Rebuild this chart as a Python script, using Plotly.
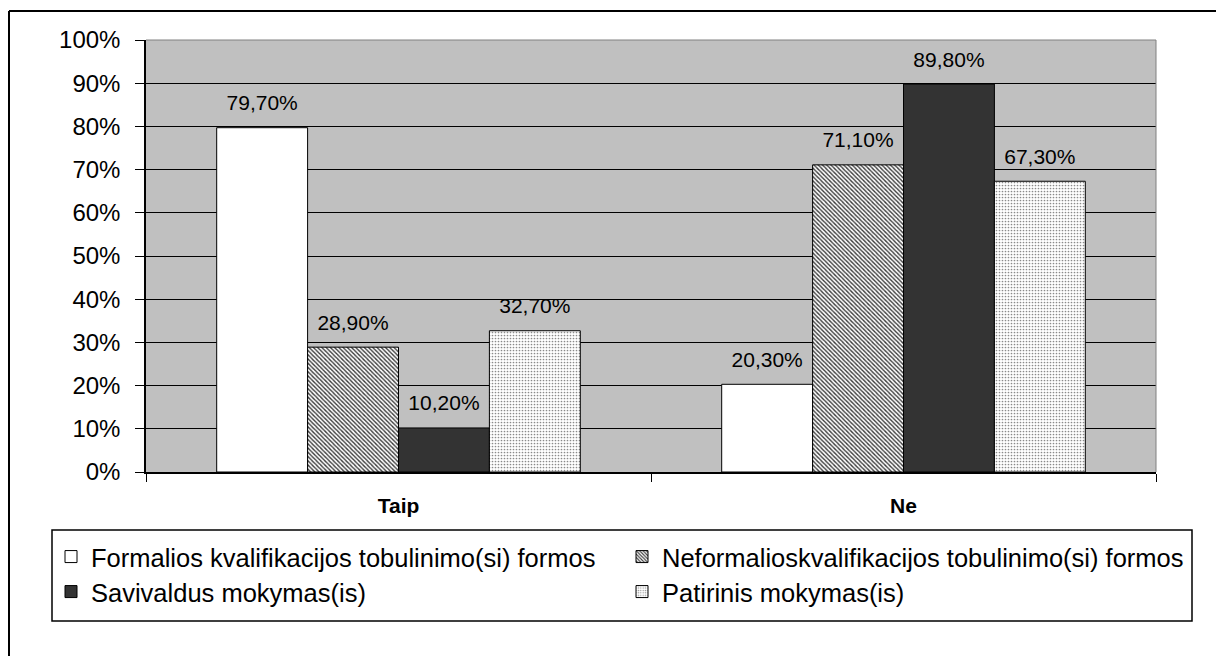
import plotly.graph_objects as go

categories = ["Taip", "Ne"]
series_names = [
    "Formalios kvalifikacijos tobulinimo(si) formos",
    "Neformalioskvalifikacijos tobulinimo(si) formos",
    "Savivaldus mokymas(is)",
    "Patirinis mokymas(is)",
]
formalios = [79.7, 20.3]
neformalios = [28.9, 71.1]
savivaldus = [10.2, 89.8]
patirinis = [32.7, 67.3]
y_tickvals = [0, 10, 20, 30, 40, 50, 60, 70, 80, 90, 100]
y_ticktext = ["0%", "10%", "20%", "30%", "40%", "50%", "60%", "70%", "80%", "90%", "100%"]

FONT = "Arial, Liberation Sans, sans-serif"
values = [formalios, neformalios, savivaldus, patirinis]
styles = [
    dict(color="#FFFFFF"),
    dict(color="#FFFFFF", pattern=dict(shape="\\", fgcolor="#3a3a3a", bgcolor="#FFFFFF", size=3, solidity=0.45, fillmode="replace")),
    dict(color="#333333"),
    dict(color="#FFFFFF", pattern=dict(shape=".", fgcolor="#8a8a8a", bgcolor="#FFFFFF", size=3, solidity=0.25, fillmode="replace")),
]
legend_ids = ["legend", "legend2", "legend3", "legend4"]

fig = go.Figure()
for name, vals, st, lg in zip(series_names, values, styles, legend_ids):
    fig.add_trace(go.Bar(
        x=categories, y=vals, name=name, legend=lg,
        marker=dict(line=dict(color="#000000", width=1), **st),
    ))
for name, vals in zip(series_names, values):
    fig.add_trace(go.Scatter(
        x=categories, y=vals, mode="markers+text", showlegend=False,
        texttemplate="%{y:.2f}%", textposition="top center",
        marker=dict(size=18, opacity=0, color="rgba(0,0,0,0)"),
        textfont=dict(family=FONT, size=21, color="#000000"),
        hoverinfo="skip",
    ))

W, H = 1208, 648
L, R, T, B = 138, 60, 32, 184
pw, ph = W - L - R, H - T - B

def px(x):
    return (x - L) / pw

def py(y):
    return (H - B - y) / ph

shapes = [
    dict(type="line", xref="paper", yref="paper", x0=0, x1=1, y0=1, y1=1, line=dict(color="#808080", width=1)),
    dict(type="line", xref="paper", yref="paper", x0=1, x1=1, y0=0, y1=1, line=dict(color="#808080", width=1)),
    dict(type="rect", xref="paper", yref="paper", x0=px(44), x1=px(1184), y0=py(613), y1=py(522),
         line=dict(color="#000000", width=1.5), fillcolor="rgba(0,0,0,0)"),
    dict(type="line", xref="paper", yref="paper", x0=px(1), x1=px(1), y0=py(3), y1=py(700), line=dict(color="#000000", width=2)),
    dict(type="line", xref="paper", yref="paper", x0=px(1), x1=px(1300), y0=py(3), y1=py(3), line=dict(color="#000000", width=2)),
]

legend_common = dict(
    orientation="h", xanchor="left", yanchor="middle",
    font=dict(family=FONT, size=25.5, color="#000000"),
    bgcolor="rgba(0,0,0,0)", borderwidth=0,
)

fig.update_layout(
    width=W, height=H,
    margin=dict(l=L, r=R, t=T, b=B, pad=0),
    paper_bgcolor="#FFFFFF",
    plot_bgcolor="#C0C0C0",
    barmode="group", bargap=0.28, bargroupgap=0,
    scattermode="group", scattergap=0.28,
    separators=", ",
    font=dict(family=FONT, color="#000000"),
    shapes=shapes,
    legend=dict(x=px(43), y=py(549), **legend_common),
    legend2=dict(x=px(614), y=py(549), **legend_common),
    legend3=dict(x=px(43), y=py(584), **legend_common),
    legend4=dict(x=px(614), y=py(584), **legend_common),
    xaxis=dict(
        type="category", tickson="boundaries", ticks="outside", ticklen=8, tickcolor="#000000",
        showline=True, linecolor="#000000", linewidth=1.5, showgrid=False,
        tickfont=dict(family=FONT, size=21, color="#000000", weight="bold"),
        ticklabelstandoff=14, fixedrange=True,
    ),
    yaxis=dict(
        range=[0, 100], tickmode="array", tickvals=y_tickvals, ticktext=y_ticktext,
        ticks="outside", ticklen=9, tickcolor="#000000",
        showline=True, linecolor="#000000", linewidth=1.5,
        showgrid=True, gridcolor="#000000", gridwidth=1, zeroline=False,
        tickfont=dict(family=FONT, size=24, color="#000000"),
        ticklabelstandoff=10, fixedrange=True,
    ),
)

fig.write_html("out.html")
